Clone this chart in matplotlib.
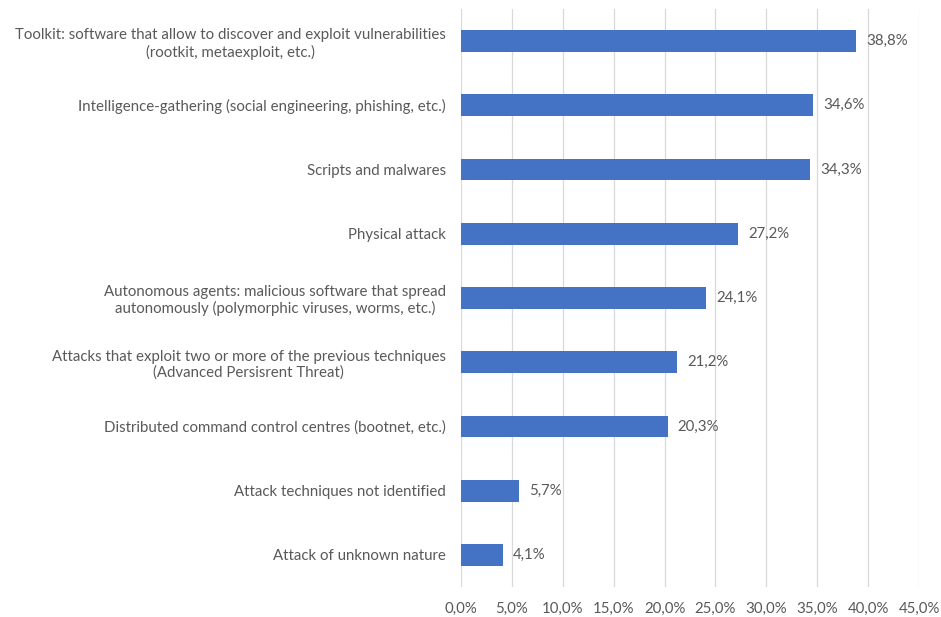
import matplotlib
matplotlib.use("Agg")
import matplotlib.pyplot as plt

categories = [
    "Toolkit: software that allow to discover and exploit vulnerabilities\n(rootkit, metaexploit, etc.)",
    "Intelligence-gathering (social engineering, phishing, etc.)",
    "Scripts and malwares",
    "Physical attack",
    "Autonomous agents: malicious software that spread\nautonomously (polymorphic viruses, worms, etc.)",
    "Attacks that exploit two or more of the previous techniques\n(Advanced Persisrent Threat)",
    "Distributed command control centres (bootnet, etc.)",
    "Attack techniques not identified",
    "Attack of unknown nature",
]
values = [38.8, 34.6, 34.3, 27.2, 24.1, 21.2, 20.3, 5.7, 4.1]
xticks = [0, 5, 10, 15, 20, 25, 30, 35, 40, 45]

BLUE = "#4472C4"
TXT = "#595959"
plt.rcParams["font.family"] = ["Lato", "DejaVu Sans"]

fig = plt.figure(figsize=(9.41, 6.17), dpi=100)
ax = fig.add_axes([461 / 941, 1 - 587 / 617, (919 - 461) / 941, (587 - 9) / 617])

ypos = list(range(len(categories)))
ax.barh(ypos, values, height=0.34, color=BLUE, zorder=3)
for y, v in zip(ypos, values):
    ax.text(v + 1.0, y, f"{v:.1f}%".replace(".", ","), va="center", ha="left",
            fontsize=10.8, color=TXT)

ax.set_ylim(len(categories) - 0.5, -0.5)
ax.set_xlim(0, 45)
ax.set_yticks(ypos)
ax.set_yticklabels(categories, fontsize=10.8, color=TXT, multialignment="center")
ax.set_xticks(xticks)
ax.set_xticklabels([f"{t:.1f}%".replace(".", ",") for t in xticks], fontsize=10.8, color=TXT)
ax.tick_params(axis="both", length=0)
ax.tick_params(axis="y", pad=11)
ax.tick_params(axis="x", pad=11)
ax.grid(axis="x", color="#D9D9D9", lw=0.9, zorder=0)
for s in ax.spines.values():
    s.set_visible(False)

fig.savefig("out.png", dpi=100)
